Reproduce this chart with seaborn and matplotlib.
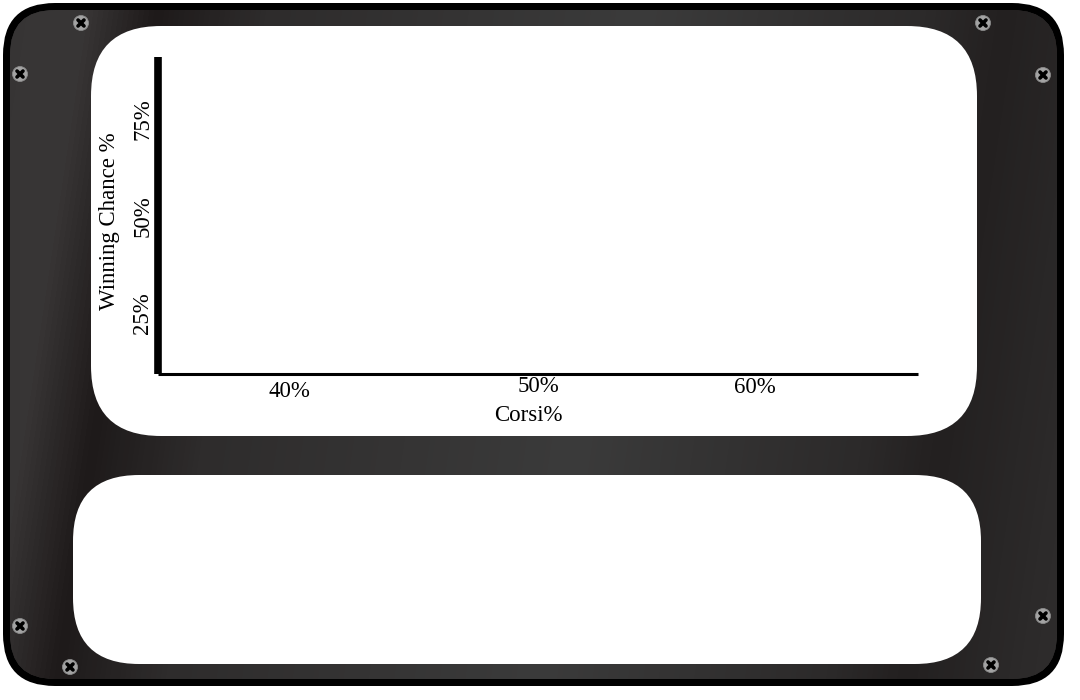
import numpy as np
import pandas as pd
import matplotlib
matplotlib.use("Agg")
import matplotlib.pyplot as plt
import matplotlib.transforms as mtransforms
from matplotlib.patches import FancyBboxPatch, Circle
from matplotlib.colors import LinearSegmentedColormap
import seaborn as sns

# chart data (the chart has no plotted series, only the axes)
corsi = []
win_chance = []
x_tick_labels = ['40%', '50%', '60%']
x_tick_pos = [36.9, 50.0, 61.4]
y_tick_labels = ['25%', '50%', '75%']
y_tick_pos = [25, 50, 75]
x_label = 'Corsi%'
y_label = 'Winning Chance %'

sns.set_theme(style="white")
plt.rcParams['font.family'] = ['Liberation Serif', 'DejaVu Serif']

W, H = 1080, 700
fig = plt.figure(figsize=(W / 100, H / 100), dpi=100)
fig.patch.set_facecolor('white')

# background panel with screws
bg = fig.add_axes([0, 0, 1, 1], zorder=0)
bg.set_xlim(0, W)
bg.set_ylim(H, 0)
bg.axis('off')

outer = FancyBboxPatch((3, 3), 1061, 683, boxstyle="round,pad=0,rounding_size=52",
                       facecolor='black', edgecolor='none')
bg.add_patch(outer)
inner = FancyBboxPatch((10, 10), 1047, 669, boxstyle="round,pad=0,rounding_size=45",
                       facecolor='#2e2c2c', edgecolor='none')
bg.add_patch(inner)

# brushed-metal gradient
yy, xx = np.mgrid[0:H, 0:W]
u = (xx + 0.15 * (yy - 450) + 100) / 1300
metal = LinearSegmentedColormap.from_list('metal', [
    (0.0, '#363434'), (0.09, '#383636'), (0.145, '#1e1a1a'), (0.23, '#2e2c2c'),
    (0.52, '#3b3b3b'), (0.74, '#2c2a2a'), (0.80, '#232020'), (0.88, '#2b2929'),
    (1.0, '#373535')])
img = bg.imshow(u, cmap=metal, vmin=0, vmax=1, extent=[0, W, H, 0],
                aspect='auto', interpolation='bilinear', zorder=1)
img.set_clip_path(inner)

top_panel = FancyBboxPatch((91, 26), 886, 410, boxstyle="round,pad=0,rounding_size=70",
                           facecolor='white', edgecolor='none', zorder=2)
bg.add_patch(top_panel)
bottom_panel = FancyBboxPatch((73, 475), 908, 189, boxstyle="round,pad=0,rounding_size=66",
                              facecolor='white', edgecolor='none', zorder=2)
bg.add_patch(bottom_panel)

screws = [(81, 23), (20, 74), (983, 23), (1043, 75),
          (20, 626), (70, 667), (1043, 616), (991, 665)]
for sx, sy in screws:
    bg.add_patch(Circle((sx, sy), 7.5, facecolor='#a3a3a3', edgecolor='#8a8a8a',
                        linewidth=0.6, zorder=3))
    d = 3.0
    bg.plot([sx - d, sx + d], [sy - d, sy + d], color='black', lw=2.6,
            solid_capstyle='round', zorder=4)
    bg.plot([sx - d, sx + d], [sy + d, sy - d], color='black', lw=2.6,
            solid_capstyle='round', zorder=4)

# main chart axes
ax_left, ax_right = 158, 918
ax_top, ax_bottom = 57, 373.5
ax = fig.add_axes([ax_left / W, 1 - ax_bottom / H,
                   (ax_right - ax_left) / W, (ax_bottom - ax_top) / H], zorder=5)
ax.patch.set_alpha(0)

df = pd.DataFrame({'Corsi': pd.Series(corsi, dtype=float),
                   'Win': pd.Series(win_chance, dtype=float)})
sns.lineplot(data=df, x='Corsi', y='Win', ax=ax)

ax.set_xlim(30, 70)
ax.set_ylim(9.3, 91)
ax.set_xticks(x_tick_pos)
ax.set_xticklabels(x_tick_labels)
ax.set_yticks(y_tick_pos)
ax.set_yticklabels(y_tick_labels, rotation=90, va='center')
ax.tick_params(axis='both', length=0, labelsize=16.5, colors='black')
ax.tick_params(axis='x', pad=1.5)
ax.tick_params(axis='y', pad=3.5)
ax.grid(False)

# small vertical offsets on x tick labels as in the original
for lab, dy in zip(ax.get_xticklabels(), [-5, 0, -1]):
    lab.set_transform(lab.get_transform() +
                      mtransforms.ScaledTranslation(0, dy / 100, fig.dpi_scale_trans))

for side in ['top', 'right']:
    ax.spines[side].set_visible(False)
ax.spines['left'].set_linewidth(5.5)
ax.spines['left'].set_color('black')
ax.spines['left'].set_capstyle('butt')
ax.spines['bottom'].set_linewidth(2.2)
ax.spines['bottom'].set_color('black')
ax.spines['bottom'].set_capstyle('butt')

ax.set_xlabel(x_label, fontsize=16.5, color='black')
ax.set_ylabel(y_label, fontsize=16.5, color='black')
ax.xaxis.set_label_coords((528 - ax_left) / (ax_right - ax_left),
                          -(405 - ax_bottom) / (ax_bottom - ax_top))
ax.yaxis.set_label_coords(-(ax_left - 120) / (ax_right - ax_left),
                          (ax_bottom - 221.5) / (ax_bottom - ax_top))

fig.savefig('out.png', dpi=100, facecolor='white')
